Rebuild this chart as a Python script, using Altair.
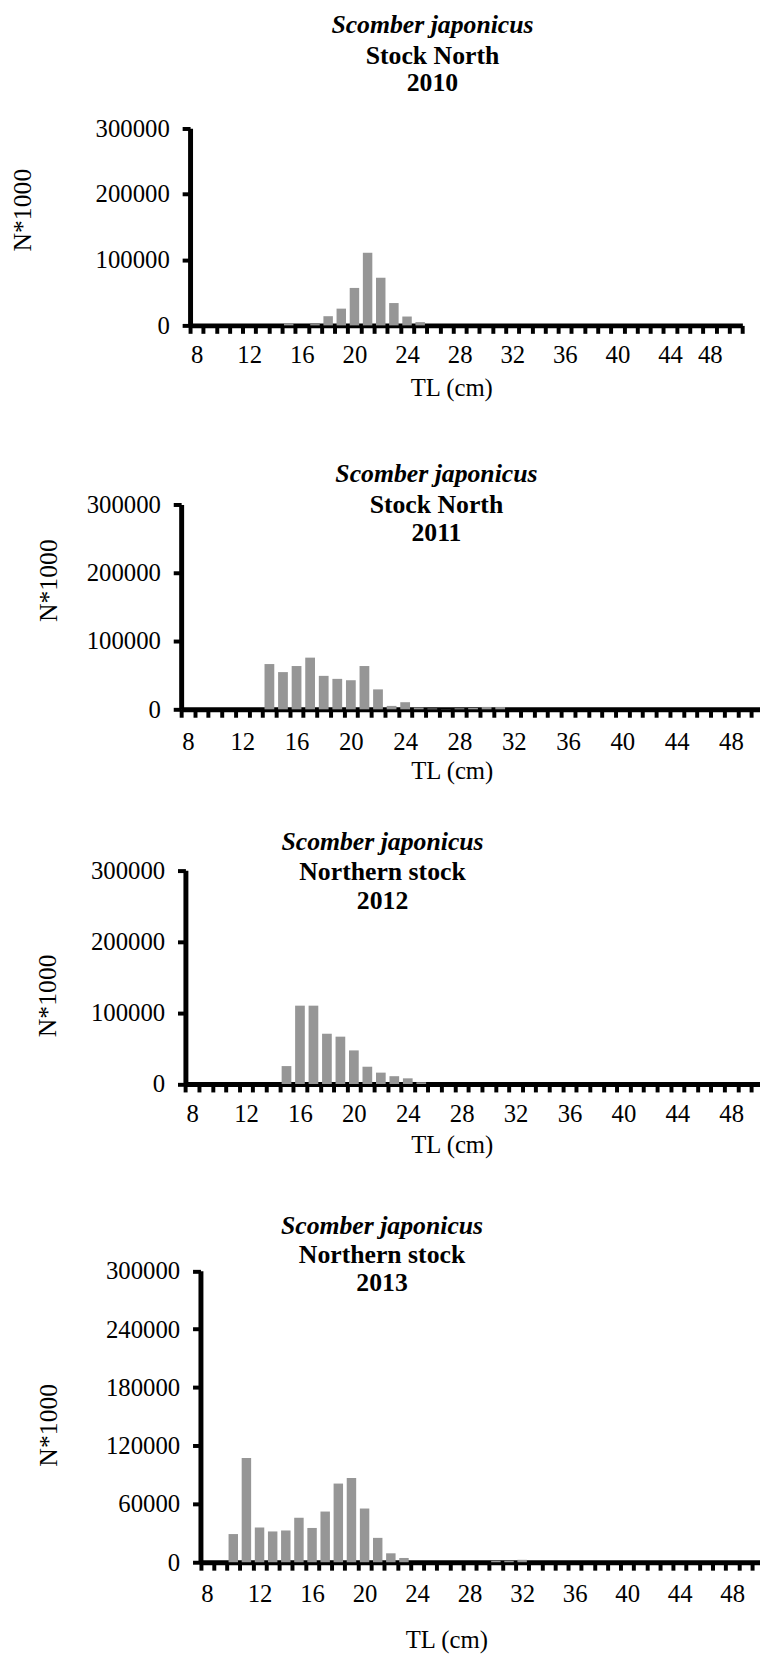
import altair as alt
import pandas as pd

# ---------------- data ----------------
species = "Scomber japonicus"

tl_2010 = [15, 17, 18, 19, 20, 21, 22, 23, 24, 25]
n_2010 = [3000, 2000, 14000, 25500, 57000, 110500, 72500, 34000, 13500, 5000]

tl_2011 = [14, 15, 16, 17, 18, 19, 20, 21, 22, 23, 24, 25, 26, 27, 28, 29, 30, 31]
n_2011 = [66300, 54500, 63400, 75700, 49000, 44600, 42600, 63400, 29200, 5000,
          10400, 2500, 1200, 300, 1500, 2000, 3500, 3500]

tl_2012 = [15, 16, 17, 18, 19, 20, 21, 22, 23, 24, 25]
n_2012 = [25200, 110000, 110000, 70600, 66500, 47200, 24300, 16000, 11000, 8000, 2500]

tl_2013 = [10, 11, 12, 13, 14, 15, 16, 17, 18, 19, 20, 21, 22, 23, 30, 31, 32]
n_2013 = [29000, 107300, 35700, 31700, 32700, 45800, 35300, 52200, 81000, 86800,
          55300, 25100, 9200, 4400, 1500, 1500, 2500]

stock_labels = ["Stock North", "Stock North", "Northern stock", "Northern stock"]
years = ["2010", "2011", "2012", "2013"]
yticks_a = [0, 100000, 200000, 300000]
yticks_b = [0, 60000, 120000, 180000, 240000, 300000]

# ---------------- style / layout ----------------
FONT = "Liberation Serif"
BAR = "#969696"
W, H = 760, 1650

layouts = [
    dict(ax=184.0, cw=13.29, xmax=49, top=112.7, zero=312.0, tx=429, ty=[8.7, 40.3, 67.0],
         lpad=22, tlx=448, tly=63, nx=14.5, ny=195, shift_last=-13),
    dict(ax=175.0, cw=13.72, xmax=50, top=493.0, zero=700.0, tx=433, ty=[462, 493.5, 522],
         lpad=25, tlx=448.5, tly=62, nx=41, ny=569.5, shift_last=0),
    dict(ax=179.3, cw=13.62, xmax=50, top=862.7, zero=1078.7, tx=378.5, ty=[833.7, 864.7, 893.7],
         lpad=22, tlx=448.5, tly=61, nx=40, ny=989, shift_last=0),
    dict(ax=194.5, cw=13.27, xmax=50, top=1267.5, zero=1562.0, tx=378, ty=[1222, 1252, 1280.3],
         lpad=24, tlx=443, tly=78, nx=41, ny=1423, shift_last=0),
]

datasets = [(tl_2010, n_2010, yticks_a), (tl_2011, n_2011, yticks_a),
            (tl_2012, n_2012, yticks_a), (tl_2013, n_2013, yticks_b)]


def text_line(txt, x, y, italic=False):
    return alt.Chart(pd.DataFrame({"t": [txt]})).mark_text(
        font=FONT, fontSize=26, fontWeight="bold",
        fontStyle="italic" if italic else "normal",
        align="center", baseline="middle", color="black",
    ).encode(text="t:N", x=alt.value(x), y=alt.value(y))


layers = []
for i, ((tl, n, yt), L) in enumerate(zip(datasets, layouts)):
    df = pd.DataFrame({"TL": tl, "N": n})
    ncat = L["xmax"] - 7
    x0 = L["ax"]
    x1 = x0 + ncat * L["cw"]
    bounds = [7.5 + k for k in range(ncat + 1)]

    half = L["cw"] / 2
    if L["shift_last"]:
        label_offset = {"condition": {"test": "datum.value == 47.5",
                                      "value": half + L["shift_last"]},
                        "value": half}
    else:
        label_offset = half

    xaxis = alt.Axis(
        orient="bottom", offset=-(H - L["zero"]), values=bounds,
        labelExpr="(datum.value + 0.5) % 4 == 0 ? format(datum.value + 0.5, 'd') : ''",
        labelOffset=label_offset, labelAlign="center", labelBaseline="middle",
        labelPadding=L["lpad"], labelFont=FONT, labelFontSize=25, labelColor="black",
        labelOverlap=False, labelFlush=False, labelBound=False,
        domainColor="black", domainWidth=5, tickColor="black", tickWidth=4, tickSize=8,
        grid=False, title="TL (cm)", titleFont=FONT, titleFontSize=25,
        titleFontWeight="normal", titleColor="black", titleX=L["tlx"], titleY=L["tly"],
        titleAlign="center", titleBaseline="middle",
    )
    yaxis = alt.Axis(
        orient="left", offset=-x0, values=yt, format="d",
        labelFont=FONT, labelFontSize=25, labelColor="black", labelPadding=13,
        labelOverlap=False, labelFlush=False,
        domainColor="black", domainWidth=5, tickColor="black", tickWidth=4, tickSize=8,
        grid=False, title="N*1000", titleFont=FONT, titleFontSize=26,
        titleFontWeight="normal", titleColor="black", titleX=L["nx"] - x0, titleY=L["ny"],
        titleAlign="center", titleBaseline="middle",
    )
    bars = alt.Chart(df).transform_calculate(
        lo="datum.TL - 0.36", hi="datum.TL + 0.36"
    ).mark_bar(color=BAR).encode(
        x=alt.X("lo:Q", scale=alt.Scale(domain=[7.5, L["xmax"] + 0.5], range=[x0, x1],
                                        nice=False, zero=False), axis=xaxis),
        x2="hi:Q",
        y=alt.Y("N:Q", scale=alt.Scale(domain=[0, 300000], range=[L["zero"], L["top"]],
                                       nice=False, zero=True), axis=yaxis),
        y2=alt.datum(0),
    )
    layers.append(bars)
    layers.append(text_line(species, L["tx"], L["ty"][0], italic=True))
    layers.append(text_line(stock_labels[i], L["tx"], L["ty"][1]))
    layers.append(text_line(years[i], L["tx"], L["ty"][2]))

chart = alt.layer(*layers).resolve_scale(
    x="independent", y="independent"
).resolve_axis(
    x="independent", y="independent"
).properties(
    width=W, height=H, autosize=alt.AutoSizeParams(type="none"), padding=0,
    background="white",
).configure_view(stroke=None)

chart.save("out.html", embed_options={"renderer": "svg", "actions": False})
